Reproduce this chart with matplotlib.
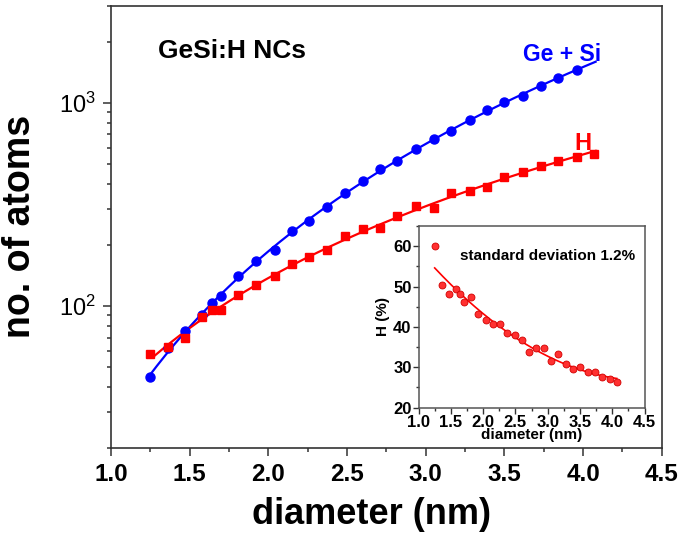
import matplotlib
matplotlib.use('Agg')
import matplotlib.pyplot as plt
import numpy as np
from matplotlib.ticker import MultipleLocator, FixedLocator, NullFormatter, FuncFormatter

plt.rcParams['font.family'] = ['Liberation Sans', 'DejaVu Sans']
plt.rcParams['mathtext.fontset'] = 'custom'
plt.rcParams['mathtext.rm'] = 'Liberation Sans'

# nanocrystal diameters (nm)
diam = [1.25, 1.36, 1.47, 1.58, 1.64, 1.70, 1.81, 1.92, 2.04, 2.15, 2.26, 2.37, 2.49, 2.60,
        2.71, 2.82, 2.94, 3.05, 3.16, 3.28, 3.39, 3.50, 3.62, 3.73, 3.84, 3.96, 4.07]
# Ge + Si atoms (no point drawn at the last diameter)
gesi_atoms = [44.8, 62, 75, 90, 104, 112, 140, 167, 189, 235, 262, 307, 360, 414,
              470, 519, 590, 667, 725, 824, 927, 1007, 1083, 1214, 1328, 1448]
# H atoms
h_atoms = [57.8, 63, 70, 88.5, 95.5, 95.5, 113, 127, 140, 161, 174, 189, 220, 240,
           242, 278, 311, 305, 360, 367, 387, 430, 457, 489, 519, 539, 562]
# inset: H content (%)
h_percent = [60.1, 50.3, 48.2, 49.3, 48.2, 46.2, 47.5, 43.2, 41.7, 40.8, 40.8, 38.4, 38.1, 36.7,
             33.7, 34.8, 34.8, 31.6, 33.4, 30.8, 29.7, 30.1, 28.9, 28.8, 27.6, 27.1, 26.3]

BLUE = '#0000ff'
RED = '#ff0000'

d = np.array(diam)
gesi = np.array(gesi_atoms)
h = np.array(h_atoms)
hp = np.array(h_percent)

fig = plt.figure(figsize=(6.85, 5.36), dpi=100)
ax = fig.add_axes([0.162, 0.164, 0.804, 0.825])

# fits in log-log space
pb = np.polyfit(np.log(d[:len(gesi)]), np.log(gesi), 2)
xb = np.linspace(1.25, 4.08, 200)
ax.plot(xb, np.exp(np.polyval(pb, np.log(xb))), color=BLUE, lw=1.6, zorder=2)
pr = np.polyfit(np.log(d), np.log(h), 2)
xr = np.linspace(1.27, 4.08, 200)
ax.plot(xr, np.exp(np.polyval(pr, np.log(xr))), color=RED, lw=1.6, zorder=2)

ax.plot(d[:len(gesi)], gesi, 'o', color=BLUE, ms=6.5, mec=BLUE, zorder=3)
ax.plot(d, h, 's', color=RED, ms=6.3, mec=RED, zorder=4)

ax.set_yscale('log')
ax.set_xlim(1.0, 4.5)
ax.set_ylim(20, 3000)
ax.xaxis.set_major_locator(MultipleLocator(0.5))
ax.xaxis.set_minor_locator(MultipleLocator(0.25))
ax.yaxis.set_major_locator(FixedLocator([100, 1000]))
ax.yaxis.set_minor_locator(FixedLocator([20, 30, 40, 50, 60, 70, 80, 90,
                                         200, 300, 400, 500, 600, 700, 800, 900, 2000, 3000]))
ax.yaxis.set_minor_formatter(NullFormatter())
ax.yaxis.set_major_formatter(FuncFormatter(
    lambda v, p: r'$\mathregular{10^{%d}}$' % int(round(np.log10(v)))))
ax.xaxis.set_major_formatter(FuncFormatter(lambda v, p: '%.1f' % v))

ax.tick_params(which='major', direction='out', length=6, width=1.1, color='#333333')
ax.tick_params(which='minor', direction='out', length=3, width=1.1, color='#333333')
ax.tick_params(axis='x', which='major', labelsize=17.5, pad=4.5)
ax.tick_params(axis='y', which='major', labelsize=17, pad=5)
for lab in ax.get_xticklabels():
    lab.set_fontweight('bold')
for s in ax.spines.values():
    s.set_linewidth(1.2)
    s.set_color('#333333')

ax.text(0.085, 0.882, 'GeSi:H NCs', transform=ax.transAxes, fontsize=19,
        fontweight='bold', va='baseline', ha='left')
ax.text(0.748, 0.8756, 'Ge + Si', transform=ax.transAxes, fontsize=16.5,
        fontweight='bold', va='baseline', ha='left', color=BLUE)
ax.text(0.842, 0.674, 'H', transform=ax.transAxes, fontsize=17,
        fontweight='bold', va='baseline', ha='left', color=RED)

fig.text(20 / 685, 1 - 226 / 536, 'no. of atoms', rotation=90, fontsize=27,
         fontweight='bold', ha='center', va='center')
fig.text(372 / 685, 1 - 515 / 536, 'diameter (nm)', fontsize=26,
         fontweight='bold', ha='center', va='center')

# inset
ins = fig.add_axes([0.611, 0.2394, 0.330, 0.339])
pi = np.polyfit(d, hp, 2)
xi = np.linspace(1.25, 4.07, 200)
ins.plot(xi, np.polyval(pi, xi), color=RED, lw=1.2, zorder=2)
ins.plot(d, hp, 'o', color='#ff3030', mec='#d00000', mew=0.6, ms=5, zorder=3)
ins.set_xlim(1.0, 4.5)
ins.set_ylim(20, 65)
ins.xaxis.set_major_locator(MultipleLocator(0.5))
ins.xaxis.set_minor_locator(MultipleLocator(0.25))
ins.yaxis.set_major_locator(MultipleLocator(10))
ins.yaxis.set_minor_locator(MultipleLocator(5))
ins.xaxis.set_major_formatter(FuncFormatter(lambda v, p: '%.1f' % v))
ins.tick_params(which='major', direction='out', length=4, width=1, color='#333333',
                labelsize=12, pad=1)
ins.tick_params(which='minor', direction='out', length=2, width=1, color='#333333')
for lab in ins.get_xticklabels() + ins.get_yticklabels():
    lab.set_fontweight('bold')
for s in ins.spines.values():
    s.set_linewidth(1.1)
    s.set_color('#555555')
ins.set_xlabel('diameter (nm)', fontsize=11, fontweight='bold', labelpad=-1)
ins.set_ylabel('H (%)', fontsize=11, fontweight='bold', labelpad=2)
ins.text(0.184, 0.811, 'standard deviation 1.2%', transform=ins.transAxes,
         fontsize=11, fontweight='bold', va='baseline', ha='left')

fig.savefig('out.png', dpi=100)
